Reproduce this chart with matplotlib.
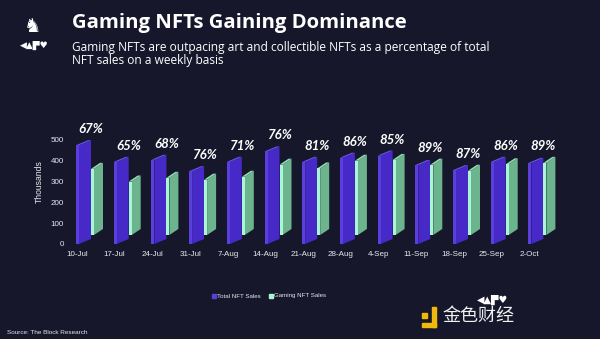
import matplotlib
matplotlib.use("Agg")
import matplotlib.pyplot as plt
from matplotlib.patches import Rectangle

# Weekly NFT sales (thousands)
weeks = ["10-Jul", "17-Jul", "24-Jul", "31-Jul", "7-Aug", "14-Aug", "21-Aug",
         "28-Aug", "4-Sep", "11-Sep", "18-Sep", "25-Sep", "2-Oct"]
total_sales = [475, 395, 405, 350, 395, 445, 395, 415, 425, 380, 355, 395, 390]
gaming_sales = [318, 257, 275, 266, 280, 338, 320, 357, 361, 338, 309, 340, 347]
gaming_share = ["67%", "65%", "68%", "76%", "71%", "76%", "81%", "86%", "85%",
                "89%", "87%", "86%", "89%"]
yticks = [0, 100, 200, 300, 400, 500]

BG = "#16172b"
PURPLE_FRONT, PURPLE_SIDE, PURPLE_TOP = "#5a3fde", "#4629c6", "#6d55ea"
GREEN_FRONT, GREEN_SIDE, GREEN_TOP = "#a9f6d6", "#6cb48d", "#93dcb5"
TXT = "#e8e8ee"

W, H = 600, 339
fig = plt.figure(figsize=(W / 100, H / 100), dpi=100, facecolor=BG)

# axes placement in pixels: x=0 category at 77px, spacing ~37.7px; y=0 at 244px
SPACING = 37.7
x_left_px, x_right_px = 68, 559
y_bottom_px, y_top_px = 244, 244 - 600 * 0.208
ax = fig.add_axes([x_left_px / W, (H - y_bottom_px) / H,
                   (x_right_px - x_left_px) / W, (y_bottom_px - y_top_px) / H])
ax.set_facecolor(BG)
ax.set_xlim((x_left_px - 77) / SPACING, (x_right_px - 77) / SPACING)
ax.set_ylim(0, 600)

# pseudo-3D geometry (one pixel expressed in data units)
px_x = 1 / SPACING
px_y = 1 / 0.208


def column(x0, base, value, front_w, side_w, rise, cols):
    front, side, top = cols
    x1 = x0 + front_w
    x2 = x1 + side_w
    # side face receding up-right
    ax.fill([x1, x2, x2, x1], [base, base + rise, base + value + rise, base + value],
            color=side, lw=0, zorder=2)
    # top face
    ax.fill([x0, x1, x2, x0 + side_w], [base + value, base + value,
                                        base + value + rise, base + value + rise],
            color=top, lw=0, zorder=2)
    # front face
    ax.fill([x0, x1, x1, x0], [base, base, base + value, base + value],
            color=front, lw=0, zorder=3)


g_base = 9 * px_y
for i, (t, g, lab) in enumerate(zip(total_sales, gaming_sales, gaming_share)):
    # gaming column sits further back
    column(i + 14 * px_x, g_base, g, 3 * px_x, 9 * px_x, 6 * px_y,
           (GREEN_FRONT, GREEN_SIDE, GREEN_TOP))
    column(i - 1 * px_x, 0, t, 3 * px_x, 12 * px_x, 5 * px_y,
           (PURPLE_FRONT, PURPLE_SIDE, PURPLE_TOP))
    top = max(t + 5 * px_y, g_base + g + 6 * px_y)
    ax.text(i + 14 * px_x, top + 11 * px_y, lab, ha="center", va="center",
            color="white", fontsize=9.5, fontweight="bold", fontstyle="italic",
            family=["Lato", "DejaVu Sans"], zorder=5)

ax.set_xticks(range(len(weeks)))
ax.set_xticklabels(weeks)
ax.set_yticks(yticks)
ax.tick_params(axis="both", length=0, colors=TXT, labelsize=5.8)
ax.tick_params(axis="x", pad=5)
ax.tick_params(axis="y", pad=3)
for lbl in ax.get_xticklabels() + ax.get_yticklabels():
    lbl.set_family("Liberation Sans")
for s in ax.spines.values():
    s.set_visible(False)
ax.set_ylabel("Thousands", color=TXT, fontsize=6.2, family="Liberation Sans",
              labelpad=5)

# title block
fig.text(72 / W, 1 - 23 / H, "Gaming NFTs Gaining Dominance", color="white",
         fontsize=14.6, fontweight="bold", family="Open Sans", va="center")
fig.text(72 / W, 1 - 54 / H,
         "Gaming NFTs are outpacing art and collectible NFTs as a percentage of total\n"
         "NFT sales on a weekly basis", color="white", fontsize=8.6,
         family="Open Sans", va="center", linespacing=1.08)

# brand marks
fig.text(33 / W, 1 - 26 / H, "\u265e", color="white", fontsize=14,
         family="DejaVu Sans", ha="center", va="center")
fig.text(34 / W, 1 - 45 / H, "\u25c0\u25b2\u259b\u2665", color="white", fontsize=6.5,
         family="DejaVu Sans", ha="center", va="center")
fig.text(493 / W, 1 - 300 / H, "\u25c0\u25b2\u259b\u2665", color="white", fontsize=7,
         family="DejaVu Sans", ha="center", va="center")

# legend
leg_y = 1 - 296 / H
fig.patches.append(Rectangle((212 / W, leg_y - 2 / H), 4 / W, 4 / H,
                             transform=fig.transFigure, color=PURPLE_FRONT))
fig.text(217 / W, leg_y, "Total NFT Sales", color=TXT, fontsize=4.4,
         family="Liberation Sans", va="center")
fig.patches.append(Rectangle((269 / W, leg_y - 2 / H), 4 / W, 4 / H,
                             transform=fig.transFigure, color=GREEN_FRONT))
fig.text(274 / W, leg_y, "Gaming NFT Sales", color=TXT, fontsize=4.4,
         family="Liberation Sans", va="center")

fig.text(7 / W, 1 - 333 / H, "Source: The Block Research", color=TXT,
         fontsize=4.6, family="Liberation Sans", va="center")

# publisher watermark
fig.patches.append(Rectangle((422 / W, 1 - 327 / H), 14 / W, 4 / H,
                             transform=fig.transFigure, color="#f0b90b"))
fig.patches.append(Rectangle((432 / W, 1 - 327 / H), 4 / W, 20 / H,
                             transform=fig.transFigure, color="#f0b90b"))
fig.patches.append(Rectangle((422 / W, 1 - 318 / H), 5 / W, 5 / H,
                             transform=fig.transFigure, color="#f0b90b"))
fig.text(478 / W, 1 - 316 / H, "金色财经", color="#f2f2f2", fontsize=13,
         family="Noto Sans CJK SC", ha="center", va="center")

fig.savefig("out.png", dpi=100, facecolor=BG)
